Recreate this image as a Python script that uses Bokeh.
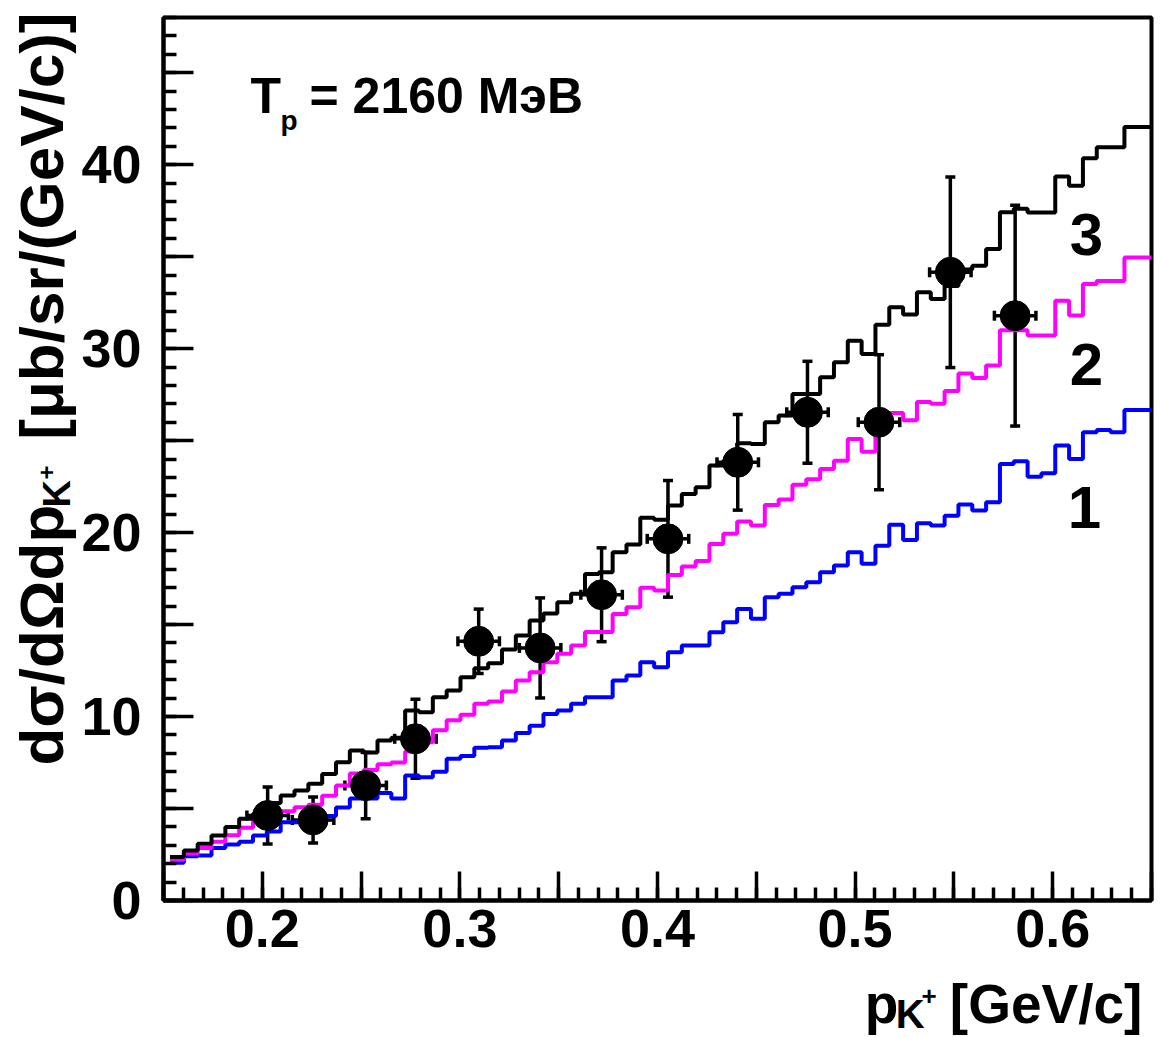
import numpy as np
from bokeh.plotting import figure
from bokeh.layouts import row, column
from bokeh.models import (ColumnDataSource, Whisker, TeeHead, Label, FixedTicker,
                          CustomJSTickFormatter, Range1d)
from bokeh.embed import file_html
from bokeh.resources import INLINE

# ---------------- data ----------------
# histogram binning of the three model curves (GeV/c)
bin_start = 0.1533
bin_width = 0.007

# curve 1 (blue)
model1 = [2.05, 2.4, 2.45, 2.85, 3.05, 3.2, 3.53, 3.75, 4.26, 4.26,
          4.3, 4.6, 5.05, 5.55, 5.55, 5.85, 5.55, 6.8, 6.7, 7.0,
          7.7, 7.85, 8.3, 8.33, 8.7, 9.1, 9.5, 10.14, 10.33, 10.69,
          11.05, 11.05, 11.96, 12.23, 12.95, 12.68, 13.5, 13.86, 13.86, 14.58,
          15.13, 15.85, 15.31, 16.49, 16.67, 17.03, 17.3, 17.84, 18.21, 18.93,
          18.3, 19.29, 20.43, 19.6, 20.51, 20.38, 20.92, 21.52, 21.2, 21.65,
          23.73, 23.88, 23.04, 23.22, 24.73, 24.0, 25.45, 25.58, 25.45, 26.67,
          26.67]
# curve 2 (magenta)
model2 = [2.21, 2.55, 2.85, 3.2, 3.55, 3.95, 4.3, 4.5, 4.85, 5.07,
          5.2, 5.7, 6.25, 6.9, 7.1, 7.4, 7.5, 8.1, 8.6, 9.25,
          9.8, 10.1, 10.69, 10.82, 11.36, 11.96, 12.41, 12.95, 13.41, 13.86,
          14.6, 14.6, 15.58, 15.94, 17.0, 16.85, 17.7, 18.15, 18.45, 19.38,
          19.93, 20.6, 20.38, 21.5, 21.8, 22.6, 22.9, 23.46, 23.9, 25.09,
          24.4, 25.8, 26.5, 26.1, 27.1, 27.0, 27.7, 28.65, 28.4, 29.08,
          31.0, 31.0, 30.71, 30.71, 32.6, 31.8, 33.51, 33.67, 33.67, 34.96,
          34.96]
# curve 3 (black)
model3 = [2.36, 2.72, 3.08, 3.53, 3.99, 4.44, 4.71, 5.3, 5.71, 5.98,
          6.34, 6.88, 7.52, 8.15, 8.05, 8.7, 8.85, 10.33, 10.24, 11.05,
          11.41, 12.14, 12.62, 12.9, 13.65, 14.4, 15.22, 15.6, 16.21, 16.67,
          17.75, 17.84, 18.93, 19.35, 20.8, 20.7, 21.47, 22.1, 22.46, 23.64,
          23.91, 24.85, 24.82, 26.0, 26.36, 27.54, 27.54, 28.44, 29.26, 30.43,
          29.71, 31.3, 32.25, 31.85, 33.06, 32.7, 33.4, 34.3, 34.51, 35.42,
          37.41, 37.6, 37.4, 37.4, 39.35, 38.86, 40.35, 40.94, 40.94, 42.05,
          42.05]

# measured points
data_x = [0.2027, 0.2257, 0.2523, 0.2775, 0.3095, 0.3406, 0.3717,
          0.4053, 0.4406, 0.4759, 0.5121, 0.5482, 0.581]
data_y = [4.62, 4.38, 6.25, 8.79, 14.09, 13.73, 16.62,
          19.66, 23.82, 26.54, 26.0, 34.15, 31.79]
data_yerr = [1.55, 1.25, 1.8, 2.15, 1.75, 2.72, 2.55,
             3.17, 2.6, 2.77, 3.67, 5.18, 6.0]
data_xerr = [0.0105] * 13

x_ticks = [0.15, 0.2, 0.25, 0.3, 0.35, 0.4, 0.45, 0.5, 0.55, 0.6, 0.65]
y_ticks = [0, 5, 10, 15, 20, 25, 30, 35, 40, 45]
curve_names = ["1", "2", "3"]

# ---------------- geometry (page pixels) ----------------
W, H = 1160, 1037
YT_W = 78            # strip for the y title
MAIN_H = 971         # main figure height, strip below for the x title
FL, FR, FT, FB = 163, 1151, 17, 900
X0, X1 = 0.15, 0.65
Y0, Y1 = 0.0, 48.0
FONT = "Liberation Sans"
LW = 4
MID = 0.347          # em fraction between alphabetic baseline and em-box middle


def sx(px):
    return X0 + (px - FL) * (X1 - X0) / (FR - FL)


def sy(py):
    return Y0 + (FB - py) * (Y1 - Y0) / (FB - FT)


def make_label(fig, x, y, text, size, align="left", angle=0.0):
    fig.add_layout(Label(x=x, y=y, text=text, angle=angle,
                         text_font=FONT, text_font_style="bold",
                         text_font_size=f"{size}px", text_color="black",
                         text_align=align, text_baseline="middle"))


def blank_fig(w, h, xr, yr):
    f = figure(width=w, height=h, x_range=Range1d(*xr), y_range=Range1d(*yr),
               output_backend="svg", toolbar_location=None,
               min_border_left=0, min_border_right=0,
               min_border_top=0, min_border_bottom=0)
    f.axis.visible = False
    f.grid.visible = False
    f.outline_line_color = None
    f.background_fill_color = "white"
    f.border_fill_color = "white"
    return f


# ---------------- main plot ----------------
MW = W - YT_W
p = figure(width=MW, height=MAIN_H, x_range=Range1d(X0, X1), y_range=Range1d(Y0, Y1),
           output_backend="svg", toolbar_location=None,
           min_border_left=FL - YT_W, min_border_right=W - FR,
           min_border_top=FT, min_border_bottom=MAIN_H - FB)
p.background_fill_color = "white"
p.border_fill_color = "white"
p.xgrid.visible = False
p.ygrid.visible = False
p.outline_line_color = "black"
p.outline_line_width = LW

xa = p.xaxis[0]
ya = p.yaxis[0]
xa.ticker = FixedTicker(ticks=x_ticks,
                        minor_ticks=[round(0.15 + 0.01 * i, 2) for i in range(51)])
ya.ticker = FixedTicker(ticks=y_ticks, minor_ticks=list(range(0, 49)))
xa.formatter = CustomJSTickFormatter(code="""
const v = Math.round(tick*100);
return (v % 10 === 0 && v > 15 && v < 65) ? (v/100).toFixed(1) : "";
""")
ya.formatter = CustomJSTickFormatter(code="""
const v = Math.round(tick);
return (v % 10 === 0) ? String(v) : "";
""")
for ax in (xa, ya):
    ax.axis_line_width = LW
    ax.axis_line_color = "black"
    ax.major_tick_line_width = 3.5
    ax.minor_tick_line_width = 3.5
    ax.major_tick_line_color = "black"
    ax.minor_tick_line_color = "black"
    ax.major_tick_out = 0
    ax.minor_tick_out = 0
    ax.minor_tick_in = 13
    ax.major_label_text_font = FONT
    ax.major_label_text_font_style = "bold"
    ax.major_label_text_font_size = "54px"
    ax.major_label_text_color = "black"
xa.major_tick_in = 29
ya.major_tick_in = 30
xa.major_label_standoff = 9
ya.major_label_standoff = 22

# histograms
edges = bin_start + bin_width * np.arange(len(model1) + 1)
for vals, col in ((model1, "#0000ff"), (model2, "#ff00ff"), (model3, "black")):
    p.step(edges, list(vals) + [vals[-1]], mode="after", line_color=col,
           line_width=LW)

# data points with error bars
dx = np.array(data_x)
dy = np.array(data_y)
src = ColumnDataSource(dict(x=dx, y=dy,
                            yl=dy - np.array(data_yerr), yu=dy + np.array(data_yerr),
                            xl=dx - np.array(data_xerr), xu=dx + np.array(data_xerr)))
head = dict(size=10, line_width=3.5, line_color="black")
p.add_layout(Whisker(source=src, base="x", lower="yl", upper="yu", dimension="height",
                     line_width=3.5, line_color="black",
                     lower_head=TeeHead(**head), upper_head=TeeHead(**head)))
p.add_layout(Whisker(source=src, base="y", lower="xl", upper="xu", dimension="width",
                     line_width=3.5, line_color="black",
                     lower_head=TeeHead(**head), upper_head=TeeHead(**head)))
p.scatter("x", "y", source=src, size=30, color="black")

# title T_p = 2160 MэВ  (middle of the em box at page y)
make_label(p, sx(250), sy(113 - MID * 50), "T", 50)
make_label(p, sx(280), sy(130 - MID * 28), "p", 28)
make_label(p, sx(309), sy(113 - MID * 50), "= 2160 MэВ", 50)

# curve numbers
for name, (px, py) in zip(curve_names, [(1084, 507), (1086, 364), (1086, 234)]):
    make_label(p, sx(px), sy(py), name, 60, align="center")

# ---------------- y title strip (coordinates = page pixels) ----------------
fy = blank_fig(YT_W, H, (0, YT_W), (H, 0))
A = np.pi / 2
YS = 62
base_x = 63
make_label(fy, base_x - MID * YS, 765, "dσ/dΩdp", YS, angle=A)
make_label(fy, 56, 507, "K", 38, angle=A)
make_label(fy, 46, 479, "+", 24, angle=A)
make_label(fy, base_x - MID * YS, 12, "[μb/sr/(GeV/c)]", YS, align="right", angle=A)

# ---------------- x title strip (coordinates = page pixels) ----------------
fx = blank_fig(MW, H - MAIN_H, (YT_W, W), (H, MAIN_H))
XS = 55
mid_y = 1003
make_label(fx, 846, mid_y, "p", XS)
make_label(fx, 880, 1013, "K", 40)
make_label(fx, 908, 995, "+", 26)
make_label(fx, 1150, mid_y, "[GeV/c]", XS, align="right")

layout = row(fy, column(p, fx))
open("out.html", "w").write(file_html(layout, INLINE))
